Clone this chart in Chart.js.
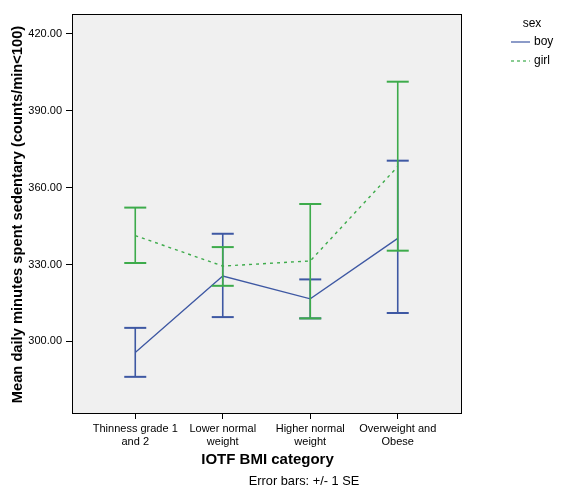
<!DOCTYPE html>
<html>
<head>
<meta charset="utf-8">
<script src="https://cdn.jsdelivr.net/npm/chart.js@4.4.0/dist/chart.umd.min.js"></script>
<style>
html,body{margin:0;padding:0;background:#fff;}
#c{display:block;}
</style>
</head>
<body>
<canvas id="c" width="561" height="495"></canvas>
<script>
// ---- Data ----
const categories = [["Thinness grade 1","and 2"],["Lower normal","weight"],["Higher normal","weight"],["Overweight and","Obese"]];
const categoryPos = [1, 2, 3, 4];
const boyMean  = [295.7, 325.5, 316.6, 340.2];
const boyLow   = [286.2, 309.5, 309.0, 311.1];
const boyHigh  = [305.3, 342.0, 324.2, 370.5];
const girlMean = [341.3, 329.4, 331.4, 368.2];
const girlLow  = [330.6, 321.7, 309.0, 335.4];
const girlHigh = [352.2, 336.8, 353.6, 401.3];
const yTickValues = [300, 330, 360, 390, 420];
const seriesNames = ["boy", "girl"];

const BLUE = '#3e58a3';
const GREEN = '#3dab4b';
const FONT = "'Liberation Sans', Arial, sans-serif";

function meanPoints(arr){ return arr.map((v,i)=>({x:categoryPos[i], y:v})); }
function errPoints(lo, hi){
  const pts = [];
  lo.forEach((v,i)=>{
    pts.push({x:categoryPos[i], y:v});
    pts.push({x:categoryPos[i], y:hi[i]});
    pts.push({x:categoryPos[i], y:null});
  });
  return pts;
}

const errStyle = (color) => ({
  borderColor: color, borderWidth: 1.6, pointStyle: 'line', pointRadius: 11,
  pointBorderColor: color, pointBorderWidth: 2, pointHoverRadius: 11,
  spanGaps: false, tension: 0, fill: false
});

const bgPlugin = {
  id: 'bg',
  beforeDraw(chart){
    const {ctx, chartArea:a} = chart;
    ctx.save();
    ctx.fillStyle = '#fff';
    ctx.fillRect(0,0,chart.width,chart.height);
    ctx.fillStyle = '#f0f0f0';
    ctx.fillRect(a.left, a.top, a.right-a.left, a.bottom-a.top);
    ctx.restore();
  },
  afterDraw(chart){
    const {ctx, chartArea:a} = chart;
    ctx.save();
    ctx.strokeStyle = '#000';
    ctx.lineWidth = 1;
    ctx.strokeRect(Math.round(a.left)+0.5, Math.round(a.top)+0.5, Math.round(a.right-a.left), Math.round(a.bottom-a.top));
    // axis titles
    ctx.fillStyle = '#000';
    ctx.textAlign = 'center';
    ctx.textBaseline = 'middle';
    ctx.font = "bold 15px " + FONT;
    ctx.fillText('IOTF BMI category', 267.5, 460);
    ctx.save();
    ctx.translate(18, 214.5);
    ctx.rotate(-Math.PI/2);
    ctx.font = "bold 14.7px " + FONT;
    ctx.fillText('Mean daily minutes spent sedentary (counts/min<100)', 0, 0);
    ctx.restore();
    ctx.font = "12.8px " + FONT;
    ctx.fillText('Error bars: +/- 1 SE', 304, 481);
    // legend
    ctx.font = "12px " + FONT;
    ctx.fillText('sex', 532, 24);
    ctx.textAlign = 'left';
    ctx.fillText(seriesNames[0], 534, 42);
    ctx.fillText(seriesNames[1], 534, 61);
    ctx.lineWidth = 1.2;
    ctx.strokeStyle = BLUE;
    ctx.beginPath(); ctx.moveTo(511, 42); ctx.lineTo(530, 42); ctx.stroke();
    ctx.strokeStyle = GREEN;
    ctx.setLineDash([3,3]);
    ctx.beginPath(); ctx.moveTo(511, 61); ctx.lineTo(530, 61); ctx.stroke();
    ctx.restore();
  }
};

new Chart(document.getElementById('c'), {
  type: 'line',
  data: {
    datasets: [
      Object.assign({label:'girl err', data: errPoints(girlLow, girlHigh), order: 0}, errStyle(GREEN)),
      {label:'girl', data: meanPoints(girlMean), borderColor: GREEN, borderWidth: 1.4, borderDash:[3,4], pointRadius:0, tension:0, fill:false, order: 1},
      Object.assign({label:'boy err', data: errPoints(boyLow, boyHigh), order: 2}, errStyle(BLUE)),
      {label:'boy', data: meanPoints(boyMean), borderColor: BLUE, borderWidth: 1.3, pointRadius:0, tension:0, fill:false, order: 3}
    ]
  },
  options: {
    responsive: false,
    animation: false,
    devicePixelRatio: 1,
    layout: { padding: { left: 0, right: 100, top: 14, bottom: 0 } },
    plugins: { legend: {display:false}, tooltip: {enabled:false} },
    scales: {
      x: {
        type: 'linear', min: 0.277, max: 4.723,
        afterBuildTicks(s){ s.ticks = categoryPos.map(v=>({value:v})); },
        afterFit(s){ s.height = 82; },
        grid: { drawOnChartArea: false, drawTicks: true, tickLength: 6, color: '#000' },
        border: { display: false },
        ticks: {
          color: '#000', font: {family: FONT, size: 11}, padding: 3, maxRotation: 0, autoSkip: false,
          callback: (v) => { const i = categoryPos.indexOf(v); return i >= 0 ? categories[i] : ''; }
        }
      },
      y: {
        type: 'linear', min: 272.1, max: 427.7,
        afterBuildTicks(s){ s.ticks = yTickValues.map(v=>({value:v})); },
        afterFit(s){ s.width = 72; },
        grid: { drawOnChartArea: false, drawTicks: true, tickLength: 6, color: '#000' },
        border: { display: false },
        ticks: { color: '#000', font: {family: FONT, size: 11}, padding: 4, callback: (v) => Number(v).toFixed(2) }
      }
    }
  },
  plugins: [bgPlugin]
});
</script>
</body>
</html>
